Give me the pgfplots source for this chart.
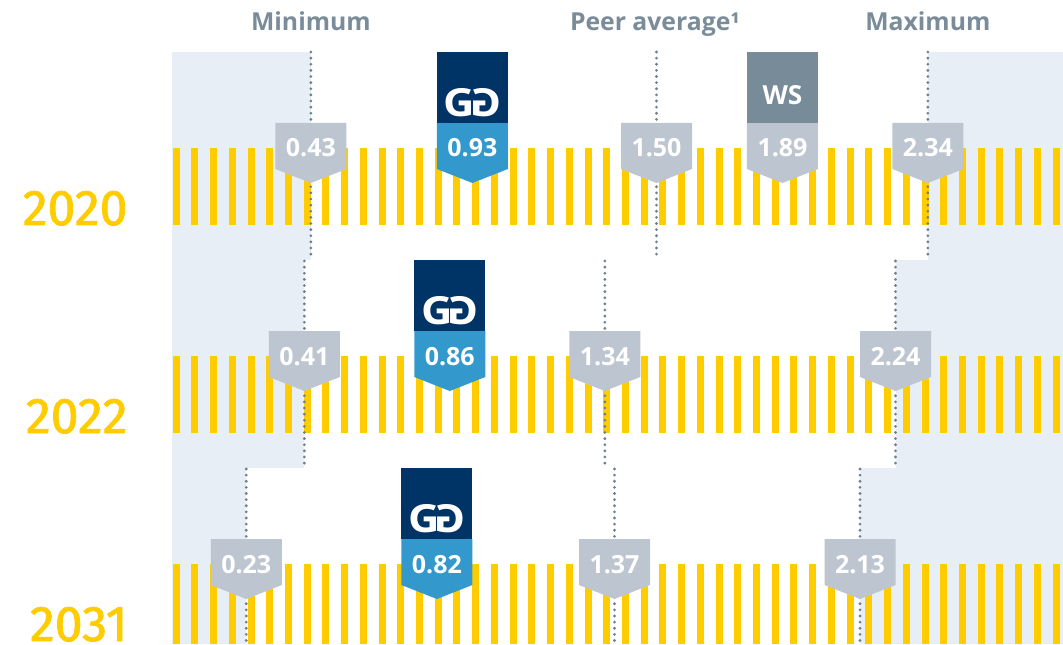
\documentclass[border=0pt]{standalone}
\usepackage{pgfplots}
\pgfplotsset{compat=1.18}
\usepackage{fontspec}
\usepackage{graphicx}
\setmainfont{Open Sans}
\newfontfamily\yearfont{Fira Sans}[FakeBold=1.6]
\definecolor{stripe}{HTML}{FFCC00}
\definecolor{bandbg}{HTML}{E8EEF5}
\definecolor{taggrey}{HTML}{BDC6D0}
\definecolor{tagblue}{HTML}{3399CC}
\definecolor{navy}{HTML}{003366}
\definecolor{wsgrey}{HTML}{778B98}
\definecolor{headgrey}{HTML}{7A8C99}
\definecolor{dotgrey}{HTML}{6F8190}
% one pixel of the reference = 0.4pt
\newcommand{\tagshape}[4]{% x, top, colour, text
  \fill[#3] ([xshift=-14.2pt]axis cs:#1,#2) -- ([xshift=14.2pt]axis cs:#1,#2)
    -- ([xshift=14.2pt]axis cs:#1,{#2+46}) -- (axis cs:#1,{#2+60})
    -- ([xshift=-14.2pt]axis cs:#1,{#2+46}) -- cycle;
  \node[anchor=base,text=white,inner sep=0pt,font=\bfseries\fontsize{10}{11}\selectfont] at (axis cs:#1,{#2+34}) {#4};
}
\newcommand{\golbox}[2]{% x, tag top
  \fill[navy] ([xshift=-14.2pt]axis cs:#1,{#2-71}) rectangle ([xshift=14.2pt]axis cs:#1,#2);
  \node[anchor=center,text=white,inner sep=0pt,font=\bfseries\fontsize{15.5}{16}\selectfont] at (axis cs:#1,{#2-20.5}) {\scalebox{1.12}[1]{G\kern-2pt\reflectbox{G}}};
}
\newcommand{\dotline}[3]{% x, y1, y2
  \draw[dotgrey,line width=1.25pt,line cap=round,dash pattern=on 0pt off 2.45pt] (axis cs:#1,#2) -- (axis cs:#1,#3);
}
\begin{document}
\begin{tikzpicture}
\useasboundingbox (0,0) rectangle (425.2pt,257.6pt);
\clip (0,0) rectangle (425.2pt,257.6pt);
\begin{axis}[
  at={(0,0)}, anchor=south west,
  width=425.2pt, height=257.6pt, scale only axis,
  xmin=-0.5325, xmax=2.7585, ymin=0, ymax=644, y dir=reverse,
  hide axis, clip=false, enlargelimits=false,
]
% light bands beyond the minimum and maximum
\fill[bandbg] (axis cs:0,52) rectangle (axis cs:0.43,259.5);
\fill[bandbg] (axis cs:0,259.5) rectangle (axis cs:0.41,468);
\fill[bandbg] (axis cs:0,468) rectangle (axis cs:0.23,644);
\fill[bandbg] (axis cs:2.34,52) rectangle (axis cs:2.7585,259.5);
\fill[bandbg] (axis cs:2.24,259.5) rectangle (axis cs:2.7585,468);
\fill[bandbg] (axis cs:2.13,468) rectangle (axis cs:2.7585,644);
% stripes
\pgfplotsinvokeforeach{0,...,47}{
  \fill[stripe] (axis cs:{0.002+0.05796*#1},148) rectangle (axis cs:{0.0237+0.05796*#1},225);
  \fill[stripe] (axis cs:{0.002+0.05796*#1},356) rectangle (axis cs:{0.0237+0.05796*#1},433);
  \fill[stripe] (axis cs:{0.002+0.05796*#1},564) rectangle (axis cs:{0.0237+0.05796*#1},644);
}
% dotted lines
\dotline{0.43}{52}{259}  \dotline{1.50}{52}{259}  \dotline{2.34}{52}{259}
\dotline{0.41}{261}{467} \dotline{1.34}{261}{467} \dotline{2.24}{261}{467}
\dotline{0.23}{469}{644} \dotline{1.37}{469}{644} \dotline{2.13}{469}{644}
% headers
\node[anchor=base,text=headgrey,font=\bfseries\fontsize{9.9}{11}\selectfont] at (axis cs:0.43,31) {Minimum};
\node[anchor=base,text=headgrey,font=\bfseries\fontsize{9.9}{11}\selectfont] at (axis cs:1.495,31) {Peer average¹};
\node[anchor=base,text=headgrey,font=\bfseries\fontsize{9.9}{11}\selectfont] at (axis cs:2.34,31) {Maximum};
% years
\node[anchor=base east,text=stripe,inner sep=0pt,font=\yearfont\fontsize{20}{20}\selectfont] at (axis cs:-0.1362,225) {2020};
\node[anchor=base east,text=stripe,inner sep=0pt,font=\yearfont\fontsize{20}{20}\selectfont] at (axis cs:-0.1362,433) {2022};
\node[anchor=base east,text=stripe,inner sep=0pt,font=\yearfont\fontsize{20}{20}\selectfont] at (axis cs:-0.1362,641) {2031};
% row 2020
\tagshape{0.43}{123}{taggrey}{0.43}
\tagshape{0.93}{123}{tagblue}{0.93}
\golbox{0.93}{123}
\tagshape{1.50}{123}{taggrey}{1.50}
\tagshape{1.89}{123}{taggrey}{1.89}
\fill[wsgrey] ([xshift=-14.2pt]axis cs:1.89,52) rectangle ([xshift=14.2pt]axis cs:1.89,123);
\node[anchor=base,text=white,inner sep=0pt,font=\bfseries\fontsize{10.5}{11}\selectfont] at (axis cs:1.89,105) {WS};
\tagshape{2.34}{123}{taggrey}{2.34}
% row 2022
\tagshape{0.41}{331}{taggrey}{0.41}
\tagshape{0.86}{331}{tagblue}{0.86}
\golbox{0.86}{331}
\tagshape{1.34}{331}{taggrey}{1.34}
\tagshape{2.24}{331}{taggrey}{2.24}
% row 2031
\tagshape{0.23}{539}{taggrey}{0.23}
\tagshape{0.82}{539}{tagblue}{0.82}
\golbox{0.82}{539}
\tagshape{1.37}{539}{taggrey}{1.37}
\tagshape{2.13}{539}{taggrey}{2.13}
\end{axis}
\end{tikzpicture}
\end{document}
